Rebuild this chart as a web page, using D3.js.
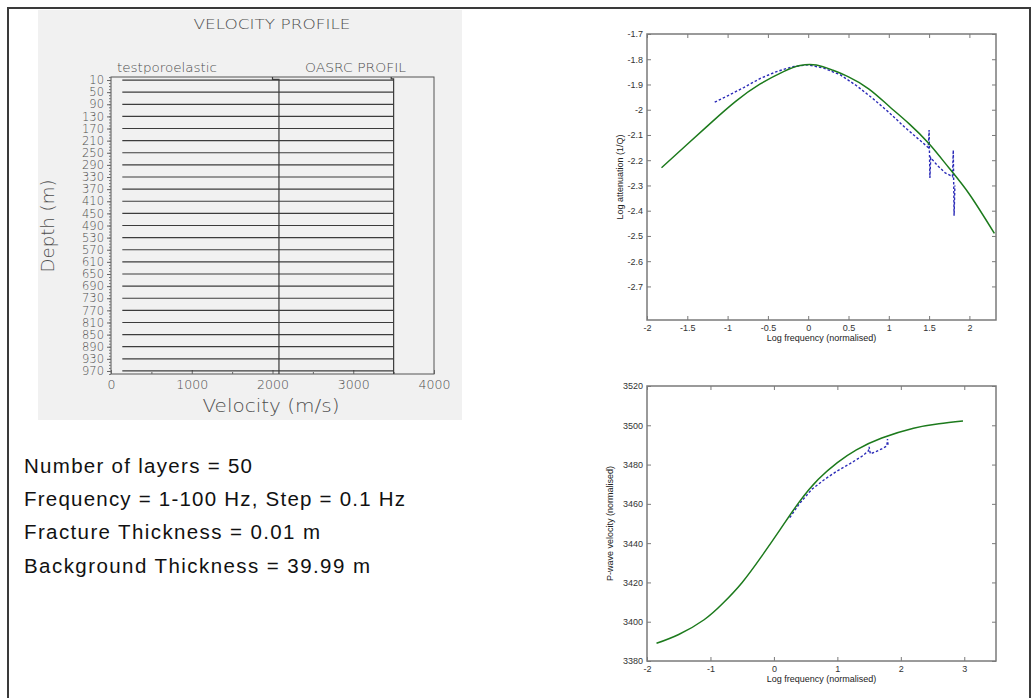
<!DOCTYPE html>
<html lang="en">
<head>
<meta charset="UTF-8">
<title>Velocity profile</title>
<script src="https://cdn.jsdelivr.net/npm/d3@7"></script>
<style>
  body{margin:0;background:#fff}
  svg{display:block}
</style>
</head>
<body>
<svg id="chart" width="1033" height="698"></svg>
<script>
// velocity profile: depth labels (m) and velocity ticks (m/s)
const depthLabels=[10,50,90,130,170,210,250,290,330,370,410,450,490,530,570,610,650,690,730,770,810,850,890,930,970]
const velocityTicks=[0,1000,2000,3000,4000]
// fractures show up as thin low velocity spikes in the background
const fractureDepths=[10,50,90,130,170,210,250,290,330,370,410,450,490,530,570,610,650,690,730,770,810,850,890,930,970]
const fractureVelocity=140
const backgroundVelocity=3500
// [velocity, depth] corners of the two profiles
const poroProfile=[[2000,0],[2000,8],[2080,8],[2080,980]]
const oasrcProfile=[[3470,0],[3470,6],[3500,6],[3500,980]]

// attenuation vs frequency
const attFreqTicks=[-2,-1.5,-1,-0.5,0,0.5,1,1.5,2]
const attTicks=[-1.7,-1.8,-1.9,-2,-2.1,-2.2,-2.3,-2.4,-2.5,-2.6,-2.7]
const attModel=[[-1.82,-2.23],[-1.5,-2.137],[-1.2,-2.05],[-0.9,-1.967],[-0.6,-1.899],[-0.3,-1.848],[-0.1,-1.825],[0.1,-1.823],[0.3,-1.843],[0.5,-1.87],[0.75,-1.917],[1.0,-1.985],[1.25,-2.055],[1.5,-2.135],[1.75,-2.232],[2.0,-2.335],[2.31,-2.49]]
const attMeasured=[[-1.16,-1.97],[-1.0,-1.945],[-0.8,-1.912],[-0.6,-1.877],[-0.4,-1.85],[-0.2,-1.83],[0,-1.822],[0.2,-1.836],[0.4,-1.862],[0.6,-1.905],[0.8,-1.955],[1.0,-2.01],[1.2,-2.07],[1.4,-2.125],[1.49,-2.15],[1.5,-2.08],[1.51,-2.27],[1.52,-2.19],[1.6,-2.22],[1.7,-2.25],[1.79,-2.265],[1.8,-2.16],[1.81,-2.42],[1.82,-2.3]]

// P-wave velocity vs frequency
const velFreqTicks=[-2,-1,0,1,2,3]
const velTicks=[3380,3400,3420,3440,3460,3480,3500,3520]
const velModel=[[-1.85,3389],[-1.5,3393.5],[-1.1,3401],[-0.8,3409.5],[-0.5,3420],[-0.2,3433],[0.1,3447],[0.4,3461],[0.7,3472.5],[1.0,3481],[1.3,3487.5],[1.7,3493.5],[2.2,3498.5],[2.6,3500.8],[2.98,3502.2]]
const velMeasured=[[0.25,3453],[0.4,3460],[0.6,3467.5],[0.8,3472.5],[1.0,3476.8],[1.2,3480.5],[1.4,3484.5],[1.49,3487],[1.5,3489],[1.52,3485.5],[1.6,3486.5],[1.7,3488],[1.78,3489.5],[1.79,3493],[1.8,3489.5]]

const notes=["Number of layers = 50","Frequency = 1-100 Hz, Step = 0.1 Hz","Fracture Thickness = 0.01 m","Background Thickness = 39.99 m"]
const noteWidths=[228,381,296,346]

const svg=d3.select("#chart")

// outer frame
svg.append("rect").attr("x",8).attr("y",8).attr("width",1022).attr("height",700)
  .attr("fill","none").attr("stroke","#3a3a3a").attr("stroke-width",2)

// ---------- velocity profile panel ----------
const vp=svg.append("g")
vp.append("rect").attr("x",38).attr("y",10).attr("width",424).attr("height",410).attr("fill","#f1f1f1")

const vx=d3.scaleLinear().domain([0,4000]).range([111,434])
const vy=d3.scaleLinear().domain([0,980]).range([77,374])
const grey="#4e4e4e"
const thin="DejaVu Sans"

vp.append("text").attr("x",272).attr("y",29).attr("text-anchor","middle")
  .attr("font-family",thin).attr("font-weight",200).attr("font-size",14).attr("fill",grey)
  .attr("textLength",157).attr("lengthAdjust","spacingAndGlyphs").text("VELOCITY PROFILE")
vp.append("text").attr("x",117).attr("y",72)
  .attr("font-family",thin).attr("font-weight",200).attr("font-size",12).attr("fill",grey)
  .attr("textLength",100).attr("lengthAdjust","spacingAndGlyphs").text("testporoelastic")
vp.append("text").attr("x",305).attr("y",72)
  .attr("font-family",thin).attr("font-weight",200).attr("font-size",12).attr("fill",grey)
  .attr("textLength",101).attr("lengthAdjust","spacingAndGlyphs").text("OASRC  PROFIL")

// frame of the profile plot
vp.append("rect").attr("x",vx(0)).attr("y",vy(0)).attr("width",vx(4000)-vx(0)).attr("height",vy(980)-vy(0))
  .attr("fill","none").attr("stroke","#555").attr("stroke-width",1)

// depth axis
const minorDepth=d3.range(0,981,10)
vp.append("g").attr("transform",`translate(${vx(0)},0)`)
  .call(d3.axisLeft(vy).tickValues(minorDepth).tickSize(2).tickFormat(""))
  .call(g=>g.select(".domain").remove())
  .call(g=>g.selectAll("line").attr("stroke","#777"))
vp.append("g").attr("transform",`translate(${vx(0)},0)`)
  .call(d3.axisLeft(vy).tickValues(depthLabels).tickSize(4).tickPadding(3))
  .call(g=>g.select(".domain").remove())
  .call(g=>g.selectAll("line").attr("stroke","#666"))
  .call(g=>g.selectAll("text").attr("font-family",thin).attr("font-weight",200).attr("font-size",11.5).attr("fill",grey))

// velocity axis
vp.append("g").attr("transform",`translate(0,${vy(980)})`)
  .call(d3.axisBottom(vx).tickValues([500,1500,2500,3500]).tickSizeInner(-2).tickSizeOuter(0).tickFormat(""))
  .call(g=>g.select(".domain").remove())
  .call(g=>g.selectAll("line").attr("stroke","#666"))
vp.append("g").attr("transform",`translate(0,${vy(980)})`)
  .call(d3.axisBottom(vx).tickValues(velocityTicks).tickSizeInner(-4).tickSizeOuter(0).tickPadding(6).tickFormat(d=>String(d)))
  .call(g=>g.select(".domain").remove())
  .call(g=>g.selectAll("line").attr("stroke","#666"))
  .call(g=>g.selectAll("text").attr("font-family",thin).attr("font-weight",200).attr("font-size",12.5).attr("fill",grey))

vp.append("text").attr("x",271).attr("y",412).attr("text-anchor","middle")
  .attr("font-family",thin).attr("font-weight",200).attr("font-size",17).attr("fill",grey)
  .attr("textLength",137).attr("lengthAdjust","spacingAndGlyphs").text("Velocity (m/s)")
vp.append("text").attr("transform","translate(54,226) rotate(-90)").attr("text-anchor","middle")
  .attr("font-family",thin).attr("font-weight",200).attr("font-size",17).attr("fill",grey)
  .attr("textLength",93).attr("lengthAdjust","spacingAndGlyphs").text("Depth (m)")

// fracture spikes
vp.append("g").selectAll("line").data(fractureDepths).join("line")
  .attr("x1",vx(fractureVelocity)).attr("x2",vx(backgroundVelocity))
  .attr("y1",d=>vy(d)).attr("y2",d=>vy(d))
  .attr("stroke","#3c3c3c").attr("stroke-width",1.2)

const profLine=d3.line().x(d=>vx(d[0])).y(d=>vy(d[1]))
vp.append("path").attr("d",profLine(poroProfile)).attr("fill","none").attr("stroke","#3c3c3c").attr("stroke-width",1.2)
vp.append("path").attr("d",profLine(oasrcProfile)).attr("fill","none").attr("stroke","#3c3c3c").attr("stroke-width",1.2)

// ---------- notes ----------
svg.append("g").selectAll("text").data(notes).join("text")
  .attr("x",24).attr("y",(d,i)=>473+i*33.2)
  .attr("font-family","Liberation Sans").attr("font-size",20.5).attr("fill","#111")
  .attr("textLength",(d,i)=>noteWidths[i]).attr("lengthAdjust","spacing")
  .text(d=>d)

// ---------- MATLAB style axes ----------
function plotAxes(x,y,xt,yt,xlabel,ylabel,ylabelX){
  const g=svg.append("g")
  const [xa,xb]=x.range(), [yb,ya]=y.range()
  const fmt=d=>String(d)
  const style=s=>s.call(a=>a.select(".domain").remove())
    .call(a=>a.selectAll("line").attr("stroke","#7a7a7a"))
    .call(a=>a.selectAll("text").attr("font-family","Liberation Sans").attr("font-size",9).attr("fill","#333"))
  g.append("g").attr("transform",`translate(0,${yb})`)
    .call(d3.axisBottom(x).tickValues(xt).tickSizeInner(-4).tickSizeOuter(0).tickPadding(5).tickFormat(fmt)).call(style)
  g.append("g").attr("transform",`translate(0,${ya})`)
    .call(d3.axisTop(x).tickValues(xt).tickSizeInner(-4).tickSizeOuter(0).tickFormat("")).call(style)
  g.append("g").attr("transform",`translate(${xa},0)`)
    .call(d3.axisLeft(y).tickValues(yt).tickSizeInner(-4).tickSizeOuter(0).tickPadding(4).tickFormat(fmt)).call(style)
  g.append("g").attr("transform",`translate(${xb},0)`)
    .call(d3.axisRight(y).tickValues(yt).tickSizeInner(-4).tickSizeOuter(0).tickFormat("")).call(style)
  g.append("rect").attr("x",xa).attr("y",ya).attr("width",xb-xa).attr("height",yb-ya)
    .attr("fill","none").attr("stroke","#7a7a7a").attr("stroke-width",1.5)
  g.append("text").attr("x",(xa+xb)/2).attr("y",yb+21).attr("text-anchor","middle")
    .attr("font-family","Liberation Sans").attr("font-size",9).attr("fill","#222")
    .text(xlabel)
  g.append("text").attr("transform",`translate(${ylabelX},${(ya+yb)/2}) rotate(-90)`).attr("text-anchor","middle")
    .attr("font-family","Liberation Sans").attr("font-size",9).attr("fill","#222")
    .text(ylabel)
  return g
}

function drawMeasured(g,x,y,data){
  const line=d3.line().x(d=>x(d[0])).y(d=>y(d[1]))
  g.append("path").attr("d",line(data)).attr("fill","none")
    .attr("stroke","#2b2bb8").attr("stroke-width",1.4)
    .attr("stroke-dasharray","2.5,2")
}
function drawModel(g,x,y,data){
  const line=d3.line().x(d=>x(d[0])).y(d=>y(d[1])).curve(d3.curveNatural)
  g.append("path").attr("d",line(data)).attr("fill","none")
    .attr("stroke","#1c7a1c").attr("stroke-width",1.5)
}

// attenuation
const ax=d3.scaleLinear().domain([-2,2.33]).range([647,996])
const ay=d3.scaleLinear().domain([-2.833,-1.7]).range([320,34])
const ga=plotAxes(ax,ay,attFreqTicks,attTicks,"Log frequency (normalised)","Log attenuation (1/Q)",623)
drawMeasured(ga,ax,ay,attMeasured)
drawModel(ga,ax,ay,attModel)

// velocity
const bx=d3.scaleLinear().domain([-2,3.5]).range([647,996])
const by=d3.scaleLinear().domain([3380,3520]).range([661,386])
const gb=plotAxes(bx,by,velFreqTicks,velTicks,"Log frequency (normalised)","P-wave velocity (normalised)",613)
drawMeasured(gb,bx,by,velMeasured)
drawModel(gb,bx,by,velModel)
</script>
</body>
</html>
